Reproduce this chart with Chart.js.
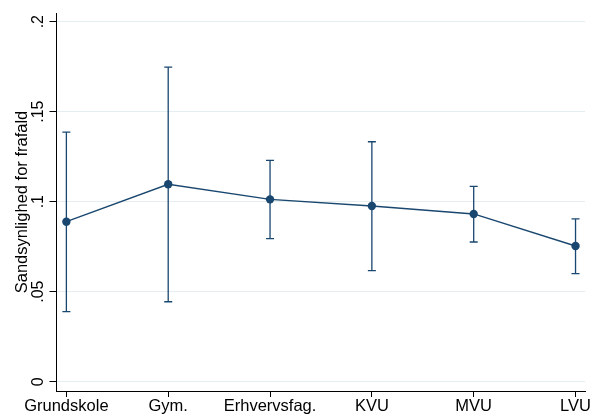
<!DOCTYPE html>
<html>
<head>
<meta charset="utf-8">
<script src="https://cdn.jsdelivr.net/npm/chart.js@4/dist/chart.umd.min.js"></script>
<style>
  html, body { margin: 0; padding: 0; background: #ffffff; }
  canvas { display: block; }
</style>
</head>
<body>
<canvas id="chart" width="592" height="414"></canvas>
<script>
// Education levels and predicted dropout probability with 95% intervals
const categories = ["Grundskole", "Gym.", "Erhvervsfag.", "KVU", "MVU", "LVU"];
const estimates  = [0.0889, 0.1097, 0.1013, 0.0976, 0.0932, 0.0754];
const lowerCI    = [0.0389, 0.0444, 0.0795, 0.0617, 0.0776, 0.0600];
const upperCI    = [0.1387, 0.1748, 0.1230, 0.1333, 0.1085, 0.0904];
const yTickValues = [0, 0.05, 0.1, 0.15, 0.2];
const yTickLabels = ["0", ".05", ".1", ".15", ".2"];
const yTitle = "Sandsynlighed for frafald";

const NAVY = "#1a476f";
const FONT = "'Liberation Sans', Arial, sans-serif";

// Vertical range bars with end caps, drawn through the chart scales
const rangeCaps = {
  id: "rangeCaps",
  beforeDatasetsDraw(chart) {
    const { ctx, scales: { x, y } } = chart;
    ctx.save();
    ctx.strokeStyle = NAVY;
    ctx.lineWidth = 1.3;
    const half = 4;
    categories.forEach((_, i) => {
      const px = x.getPixelForValue(i);
      const lo = y.getPixelForValue(lowerCI[i]);
      const hi = y.getPixelForValue(upperCI[i]);
      ctx.beginPath();
      ctx.moveTo(px, lo); ctx.lineTo(px, hi);
      ctx.moveTo(px - half, lo); ctx.lineTo(px + half, lo);
      ctx.moveTo(px - half, hi); ctx.lineTo(px + half, hi);
      ctx.stroke();
    });
    ctx.restore();
  }
};

new Chart(document.getElementById("chart"), {
  type: "line",
  data: {
    datasets: [{
      data: estimates.map((v, i) => ({ x: i, y: v })),
      borderColor: NAVY,
      backgroundColor: NAVY,
      borderWidth: 1.4,
      pointRadius: 4.2,
      pointBackgroundColor: NAVY,
      pointBorderColor: NAVY,
      pointBorderWidth: 0,
      tension: 0,
      fill: false
    }]
  },
  options: {
    responsive: false,
    animation: false,
    devicePixelRatio: 1,
    layout: { padding: { top: 13, right: 7, left: 0, bottom: 0 } },
    plugins: { legend: { display: false }, tooltip: { enabled: false } },
    scales: {
      x: {
        type: "linear",
        min: -0.097,
        max: 5.093,
        afterBuildTicks(scale) { scale.ticks = categories.map((_, i) => ({ value: i })); },
        afterFit(scale) { scale.height = 23; },
        ticks: {
          callback: (v) => categories[v],
          color: "#000000",
          font: { family: FONT, size: 16.5 },
          padding: 0,
          maxRotation: 0,
          minRotation: 0,
          autoSkip: false
        },
        grid: { drawOnChartArea: false, drawTicks: true, tickLength: 6, tickColor: "#000000", tickWidth: 1 },
        border: { display: true, color: "#000000", width: 1 }
      },
      y: {
        type: "linear",
        min: -0.00517,
        max: 0.20483,
        afterBuildTicks(scale) { scale.ticks = yTickValues.map(v => ({ value: v })); },
        afterFit(scale) { scale.width = 56.5; },
        ticks: {
          callback: (v) => yTickLabels[yTickValues.indexOf(v)],
          color: "#000000",
          font: { family: FONT, size: 16 },
          padding: 0,
          minRotation: 90,
          maxRotation: 90,
          crossAlign: "center"
        },
        grid: { color: "#e4eef0", lineWidth: 1, drawTicks: true, tickLength: 7, tickColor: "#000000", tickWidth: 1 },
        border: { display: true, color: "#000000", width: 1 },
        title: {
          display: true,
          text: yTitle,
          color: "#000000",
          font: { family: FONT, size: 16.5 },
          padding: { top: 13, bottom: 0 }
        }
      }
    }
  },
  plugins: [rangeCaps]
});
</script>
</body>
</html>
